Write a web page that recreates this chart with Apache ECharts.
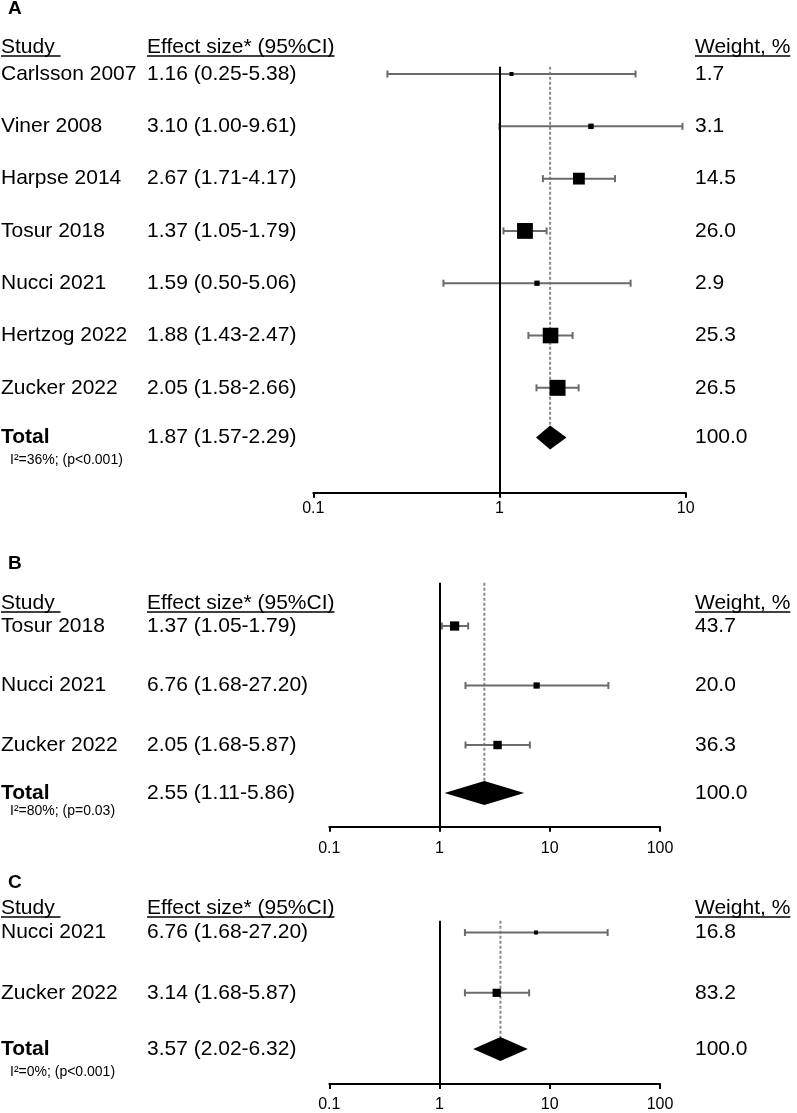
<!DOCTYPE html>
<html><head><meta charset="utf-8">
<script src="https://cdn.jsdelivr.net/npm/echarts@6/dist/echarts.min.js"></script>
<style>html,body{margin:0;padding:0;background:#fff}#c{width:797px;height:1113px}</style>
</head><body><div id="c"></div>
<script>
// ---------- Panel A data ----------
const studiesA = ['Carlsson 2007','Viner 2008','Harpse 2014','Tosur 2018','Nucci 2021','Hertzog 2022','Zucker 2022'];
const effectTextA = ['1.16 (0.25-5.38)','3.10 (1.00-9.61)','2.67 (1.71-4.17)','1.37 (1.05-1.79)','1.59 (0.50-5.06)','1.88 (1.43-2.47)','2.05 (1.58-2.66)'];
const estA = [1.16, 3.10, 2.67, 1.37, 1.59, 1.88, 2.05];
const lowA = [0.25, 1.00, 1.71, 1.05, 0.50, 1.43, 1.58];
const highA = [5.38, 9.61, 4.17, 1.79, 5.06, 2.47, 2.66];
const weightA = [1.7, 3.1, 14.5, 26.0, 2.9, 25.3, 26.5];
const totalA = [1.87, 1.57, 2.29];
const totalTextA = '1.87 (1.57-2.29)';
const hetA = 'I\u00B2=36%; (p<0.001)';
const ticksA = [0.1, 1, 10];

// ---------- Panel B data ----------
const studiesB = ['Tosur 2018','Nucci 2021','Zucker 2022'];
const effectTextB = ['1.37 (1.05-1.79)','6.76 (1.68-27.20)','2.05 (1.68-5.87)'];
const estB = [1.37, 7.6, 3.36];
const lowB = [1.05, 1.72, 1.72];
const highB = [1.82, 34.0, 6.6];
const weightB = [43.7, 20.0, 36.3];
const totalB = [2.55, 1.11, 5.86];
const totalTextB = '2.55 (1.11-5.86)';
const hetB = 'I\u00B2=80%; (p=0.03)';
const ticksB = [0.1, 1, 10, 100];

// ---------- Panel C data ----------
const studiesC = ['Nucci 2021','Zucker 2022'];
const effectTextC = ['6.76 (1.68-27.20)','3.14 (1.68-5.87)'];
const estC = [7.5, 3.3];
const lowC = [1.7, 1.7];
const highC = [33.5, 6.5];
const weightC = [16.8, 83.2];
const totalC = [3.57, 2.02, 6.32];
const totalTextC = '3.57 (2.02-6.32)';
const hetC = 'I\u00B2=0%; (p<0.001)';
const ticksC = [0.1, 1, 10, 100];

const headers = ['Study ', 'Effect size* (95%CI)', 'Weight, %'];
const panelTitles = ['A', 'B', 'C'];

const FONT = '"Liberation Sans", Arial, sans-serif';
const COLX = [1, 147, 695];

const panels = [
  {studies:studiesA, effect:effectTextA, est:estA, low:lowA, high:highA, weight:weightA, total:totalA, totalText:totalTextA, het:hetA, ticks:ticksA,
   grid:{left:313.3, top:66.7, width:372.4, height:426}, yMin:-0.14, yMax:8.005, totalPos:6.95, hetOffset:23, sq:3.1, titleY:9, headY:47, labelMargin:8},
  {studies:studiesB, effect:effectTextB, est:estB, low:lowB, high:highB, weight:weightB, total:totalB, totalText:totalTextB, het:hetB, ticks:ticksB,
   grid:{left:329.3, top:582.7, width:330.7, height:244}, yMin:-0.728, yMax:3.373, totalPos:2.807, hetOffset:18, sq:1.4, titleY:564, headY:603, labelMargin:14},
  {studies:studiesC, effect:effectTextC, est:estC, low:lowC, high:highC, weight:weightC, total:totalC, totalText:totalTextC, het:hetC, ticks:ticksC,
   grid:{left:329.3, top:920.7, width:330.7, height:166}, yMin:-0.196, yMax:2.512, totalPos:1.93, hetOffset:23, sq:0.9, titleY:883, headY:908, labelMargin:13}
];

const ctx = document.createElement('canvas').getContext('2d');
function textW(t, size, weight){ ctx.font = (weight||'normal') + ' ' + size + 'px ' + FONT; return ctx.measureText(t).width; }

const chart = echarts.init(document.getElementById('c'), null, {renderer:'canvas'});

const grids = [], xAxes = [], yAxes = [], series = [], graphics = [];
panels.forEach((p, i) => {
  grids.push(Object.assign({}, p.grid));
  xAxes.push({
    gridIndex:i, type:'log', logBase:10, min:p.ticks[0], max:p.ticks[p.ticks.length-1],
    axisLine:{onZero:false, lineStyle:{color:'#000', width:2}},
    axisTick:{show:true, inside:false, length:5, lineStyle:{color:'#000', width:2}},
    axisLabel:{margin:p.labelMargin, fontSize:16, color:'#000', fontFamily:FONT,
      formatter: v => String(parseFloat(Number(v).toPrecision(3)))},
    splitLine:{show:false}, minorTick:{show:false}, minorSplitLine:{show:false}
  });
  yAxes.push({gridIndex:i, type:'value', inverse:true, min:p.yMin, max:p.yMax, show:false});

  // pooled estimate: dashed line + diamond
  series.push({
    type:'custom', xAxisIndex:i, yAxisIndex:i, z:1, silent:true,
    data:[[p.total[0], p.totalPos, p.total[1], p.total[2]]],
    encode:{x:0, y:1},
    renderItem:(params, api) => {
      const c = api.coord([api.value(0), api.value(1)]);
      const l = api.coord([api.value(2), api.value(1)]);
      const r = api.coord([api.value(3), api.value(1)]);
      const top = api.coord([api.value(0), p.yMin])[1];
      const h = 12;
      return {type:'group', children:[
        {type:'line', shape:{x1:c[0], y1:top, x2:c[0], y2:c[1]-h}, style:{stroke:'#8a8a8a', lineWidth:2, lineDash:[3,2]}},
        {type:'polygon', shape:{points:[[l[0],c[1]],[c[0],c[1]-h],[r[0],c[1]],[c[0],c[1]+h]]}, style:{fill:'#000'}}
      ]};
    }
  });

  // study estimates
  series.push({
    type:'custom', xAxisIndex:i, yAxisIndex:i, z:3, silent:true,
    data:p.studies.map((s, j) => [p.est[j], j, p.low[j], p.high[j], p.weight[j]]),
    encode:{x:0, y:1},
    renderItem:(params, api) => {
      const row = api.value(1);
      const e = api.coord([api.value(0), row]);
      const l = api.coord([api.value(2), row]);
      const r = api.coord([api.value(3), row]);
      const s = Math.max(4, p.sq * Math.sqrt(api.value(4)));
      const cap = 3.5, stroke = {stroke:'#6b6b6b', lineWidth:2};
      return {type:'group', children:[
        {type:'line', shape:{x1:l[0], y1:l[1], x2:r[0], y2:r[1]}, style:stroke},
        {type:'line', shape:{x1:l[0], y1:l[1]-cap, x2:l[0], y2:l[1]+cap}, style:stroke},
        {type:'line', shape:{x1:r[0], y1:r[1]-cap, x2:r[0], y2:r[1]+cap}, style:stroke},
        {type:'rect', shape:{x:e[0]-s/2, y:e[1]-s/2, width:s, height:s}, style:{fill:'#000'}}
      ]};
    },
    markLine:{silent:true, symbol:['none','none'], label:{show:false}, animation:false,
      lineStyle:{color:'#000', width:2, type:'solid'}, data:[{xAxis:1}]}
  });

  // row texts
  const rows = p.studies.map((s, j) => [1, j]).concat([[1, p.totalPos]]);
  const totalW = p.weight.reduce((a, b) => a + b, 0);
  series.push({
    type:'custom', xAxisIndex:i, yAxisIndex:i, z:4, silent:true,
    data:rows, encode:{x:0, y:1},
    renderItem:(params, api) => {
      const k = params.dataIndex;
      const y = api.coord([1, api.value(1)])[1];
      const isTotal = k === p.studies.length;
      const base = {fill:'#000', fontSize:21, fontFamily:FONT, verticalAlign:'middle', align:'left'};
      const ch = [
        {type:'text', x:COLX[0], y:y, style:Object.assign({}, base, {text:isTotal ? 'Total' : p.studies[k], fontWeight:isTotal ? 'bold' : 'normal'})},
        {type:'text', x:COLX[1], y:y, style:Object.assign({}, base, {text:isTotal ? p.totalText : p.effect[k]})},
        {type:'text', x:COLX[2], y:y, style:Object.assign({}, base, {text:(isTotal ? totalW : p.weight[k]).toFixed(1)})}
      ];
      if (isTotal) ch.push({type:'text', x:10, y:y + p.hetOffset, style:Object.assign({}, base, {fontSize:14, text:p.het})});
      return {type:'group', children:ch};
    }
  });

  // panel title and column headers
  graphics.push({type:'text', x:8, y:p.titleY, style:{text:panelTitles[i], fontSize:19, fontWeight:'bold', fontFamily:FONT, fill:'#000', verticalAlign:'middle'}});
  headers.forEach((h, c) => {
    graphics.push({type:'text', x:COLX[c], y:p.headY, style:{text:h, fontSize:21, fontFamily:FONT, fill:'#000', verticalAlign:'middle'}});
    const w = textW(h, 21);
    graphics.push({type:'line', shape:{x1:COLX[c], y1:p.headY + 9, x2:COLX[c] + w, y2:p.headY + 9}, style:{stroke:'#000', lineWidth:1.5}});
  });
});

chart.setOption({
  animation:false,
  backgroundColor:'#fff',
  grid:grids, xAxis:xAxes, yAxis:yAxes, series:series, graphic:graphics
});
</script>
</body></html>
